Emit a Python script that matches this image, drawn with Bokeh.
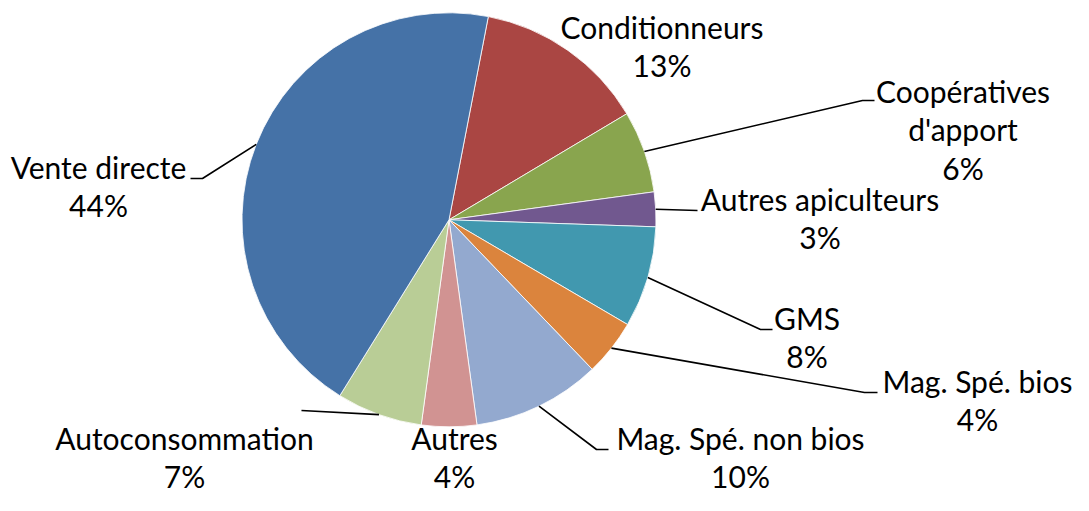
import math
from bokeh.plotting import figure
from bokeh.models import Range1d, ColumnDataSource
from bokeh.embed import file_html
from bokeh.resources import INLINE
from bokeh.core.properties import value

# ---- data ----
categories = ["Conditionneurs", "Coopératives\nd'apport", "Autres apiculteurs", "GMS",
              "Mag. Spé. bios", "Mag. Spé. non bios", "Autres", "Autoconsommation",
              "Vente directe"]
shares = [13.4, 6.4, 2.7, 7.9, 4.4, 10.0, 4.3, 6.7, 44.2]
pct_labels = ["13%", "6%", "3%", "8%", "4%", "10%", "4%", "7%", "44%"]
colors = ["#AA4643", "#89A54E", "#71588F", "#4198AF", "#DB843D",
          "#93A9CF", "#D19392", "#B9CD96", "#4572A7"]

# ---- layout (pixel positions, origin top-left of the figure) ----
W, H = 1073, 495
REF_H = 511
cx_s, cy_s, R = 448.5, 219.3, 207.0
first_angle = 10.95  # degrees clockwise from 12 o'clock
label_anchor = [(661.5, 38), (962.5, 102), (819.5, 210), (806.5, 329),
                (977, 392), (740, 449), (454, 449), (184, 449), (98, 178)]
leader_pts = [None, [(862, 100), (874, 100)], [(697, 210)], [(760, 329), (772, 329)],
              [(864, 392), (877, 392)], [(596, 449), (608, 449)], None,
              [(301, 410)], [(202, 178), (190, 178)]]
line_gap = 38.6
BASE_FIX = 12.0   # renderer puts the baseline this much lower than asked
FONT = "Lato"
FSIZE = "30px"


def Y(sy):
    return REF_H - sy


p = figure(width=W, height=H, output_backend="svg", toolbar_location=None,
           x_range=Range1d(0, W), y_range=Range1d(REF_H - H, REF_H),
           min_border=0, outline_line_color=None)
p.axis.visible = False
p.grid.visible = False
p.background_fill_color = "white"
p.border_fill_color = "white"

total = sum(shares)
starts, ends, mids = [], [], []
a = first_angle
for s in shares:
    b = a + 360.0 * s / total
    starts.append(math.radians(90 - b))
    ends.append(math.radians(90 - a))
    mids.append(math.radians((a + b) / 2))
    a = b

src = ColumnDataSource(dict(x=[cx_s] * len(shares), y=[Y(cy_s)] * len(shares),
                            start=starts, end=ends, color=colors))
p.wedge(x="x", y="y", radius=R, start_angle="start", end_angle="end",
        fill_color="color", line_color="white", line_width=0.8, source=src)

# leader lines
for i, pts in enumerate(leader_pts):
    if not pts:
        continue
    m = mids[i]
    xs = [cx_s + R * math.sin(m)] + [q[0] for q in pts]
    ys = [Y(cy_s) + R * math.cos(m)] + [Y(q[1]) for q in pts]
    p.line(xs, ys, line_color="black", line_width=1.6)

# labels
tx, ty, tt = [], [], []
for i, name in enumerate(categories):
    lines = name.split("\n") + [pct_labels[i]]
    x0, y0 = label_anchor[i]
    for k, t in enumerate(lines):
        tx.append(x0)
        ty.append(Y(y0 + k * line_gap - BASE_FIX))
        tt.append(t)
p.text(x=tx, y=ty, text=tt, text_align="center", text_baseline="alphabetic",
       text_font=value(FONT), text_font_size=FSIZE, text_color="black")

open("out.html", "w").write(file_html(p, INLINE))
